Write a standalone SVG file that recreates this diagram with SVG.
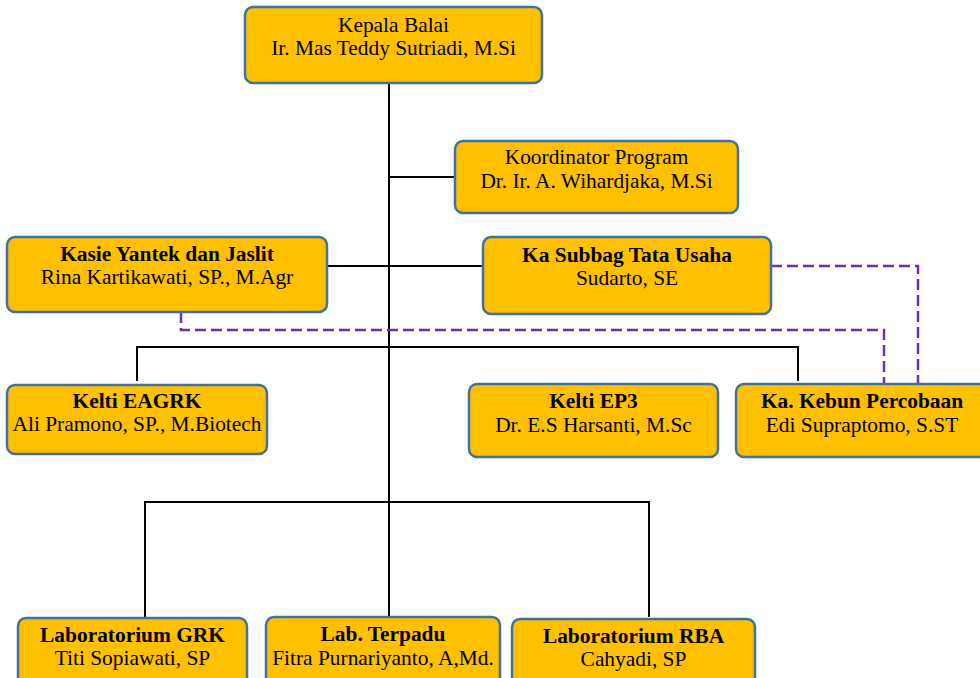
<svg xmlns="http://www.w3.org/2000/svg" width="980" height="678" viewBox="0 0 980 678">
<style>
.box{fill:#FFC000;stroke:#41719C;stroke-width:2.5}
.t{font-family:"Liberation Serif","Times New Roman",serif;font-size:21.4px;fill:#000;text-anchor:middle}
.b{font-weight:bold}
.ln{fill:none;stroke:#000;stroke-width:2}
.dash{fill:none;stroke:#7030A0;stroke-width:2.5;stroke-dasharray:11,5}
</style>
<rect width="980" height="678" fill="#fff"/>
<g id="connectors">
<path class="ln" d="M389,83 V502"/>
<path class="ln" d="M389,177 H455"/>
<path class="ln" d="M327,266 H483"/>
<path class="ln" d="M137,381 V347 H798 V381"/>
<path class="ln" d="M145,617 V502 H649 V617"/>
<path class="ln" d="M389,502 V617"/>
<path class="dash" d="M771,266 H918 V384"/>
<path class="dash" d="M181,312 V330 H884 V384"/>
</g>
<g id="kepala">
<rect class="box" x="245" y="7" width="297" height="76" rx="8"/>
<text class="t" x="393.5" y="32">Kepala Balai</text>
<text class="t" x="393.5" y="55">Ir. Mas Teddy Sutriadi, M.Si</text>
</g>
<g id="koordinator">
<rect class="box" x="455" y="141" width="283" height="72" rx="8"/>
<text class="t" x="596.5" y="164">Koordinator Program</text>
<text class="t" x="596.5" y="188">Dr. Ir. A. Wihardjaka, M.Si</text>
</g>
<g id="kasie">
<rect class="box" x="7" y="237" width="320" height="75" rx="8"/>
<text class="t b" x="167" y="261">Kasie Yantek dan Jaslit</text>
<text class="t" x="167" y="284">Rina Kartikawati, SP., M.Agr</text>
</g>
<g id="subbag">
<rect class="box" x="483" y="237" width="288" height="77" rx="8"/>
<text class="t b" x="627" y="262">Ka Subbag Tata Usaha</text>
<text class="t" x="627" y="285">Sudarto, SE</text>
</g>
<g id="eagrk">
<rect class="box" x="7" y="385" width="260" height="69" rx="8"/>
<text class="t b" x="137" y="408">Kelti EAGRK</text>
<text class="t" x="137" y="431">Ali Pramono, SP., M.Biotech</text>
</g>
<g id="ep3">
<rect class="box" x="469" y="384" width="249" height="73" rx="8"/>
<text class="t b" x="593.5" y="408">Kelti EP3</text>
<text class="t" x="593.5" y="432">Dr. E.S Harsanti, M.Sc</text>
</g>
<g id="kebun">
<rect class="box" x="736" y="384" width="252" height="73" rx="8"/>
<text class="t b" x="862" y="408">Ka. Kebun Percobaan</text>
<text class="t" x="862" y="432">Edi Supraptomo, S.ST</text>
</g>
<g id="labgrk">
<rect class="box" x="18" y="618" width="229" height="73" rx="8"/>
<text class="t b" x="132.5" y="642">Laboratorium GRK</text>
<text class="t" x="132.5" y="665">Titi Sopiawati, SP</text>
</g>
<g id="labterpadu">
<rect class="box" x="266" y="617" width="234" height="74" rx="8"/>
<text class="t b" x="383" y="641">Lab. Terpadu</text>
<text class="t" x="383" y="665">Fitra Purnariyanto, A,Md.</text>
</g>
<g id="labrba">
<rect class="box" x="512" y="619" width="243" height="72" rx="8"/>
<text class="t b" x="633.5" y="643">Laboratorium RBA</text>
<text class="t" x="633.5" y="666">Cahyadi, SP</text>
</g>
</svg>
